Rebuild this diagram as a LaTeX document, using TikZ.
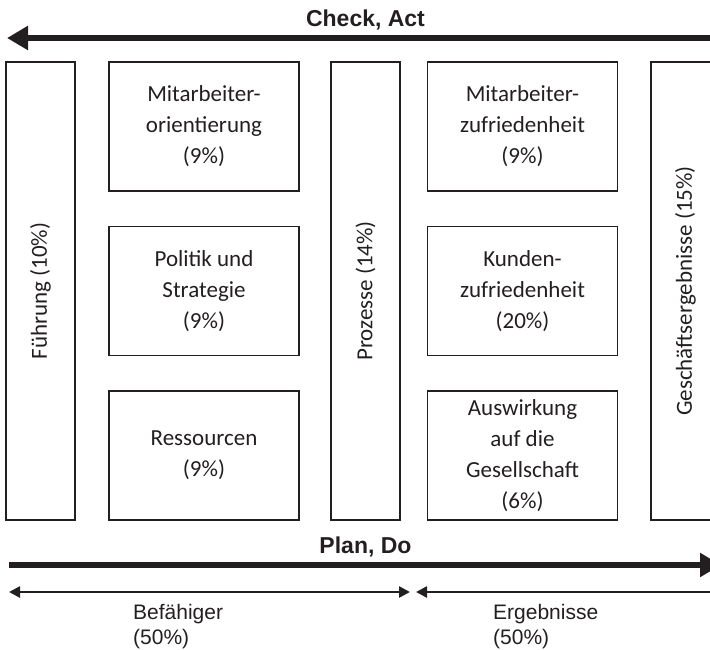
\documentclass[tikz,border=0pt]{standalone}
\usepackage{fontspec}
\setmainfont{Carlito}
\newfontfamily\arialf{Liberation Sans}
\usetikzlibrary{arrows.meta}
\definecolor{ink}{HTML}{231F20}
\tikzset{
  box/.style={draw=ink, line width=1.6pt, rectangle, inner sep=0pt, align=center,
    text=ink, font=\fontsize{23}{31}\selectfont},
  colbox/.style={box, minimum width=190pt, minimum height=129pt},
  tallbox/.style={box, rotate=90, minimum width=458pt, minimum height=69pt},
  bigarrow/.style={draw=ink, line width=6.8pt, -{Triangle[length=21pt,width=23pt]}},
  smallarrow/.style={draw=ink, line width=2.5pt, {Triangle[length=11pt,width=11pt]}-{Triangle[length=11pt,width=11pt]}},
  biglabel/.style={text=ink, font=\arialf\bfseries\fontsize{23}{27}\selectfont, anchor=base, inner sep=0pt},
  smalllabel/.style={text=ink, font=\arialf\fontsize{21}{25}\selectfont, align=left, anchor=north west, inner sep=0pt}
}
\begin{document}
\begin{tikzpicture}[x=1pt,y=-1pt]
\useasboundingbox (0,0) rectangle (710,649);
% arrows
\coordinate (ca1) at (730,38);
\coordinate (ca2) at (7,38);
\draw[bigarrow] (ca1) -- (ca2);
\node[biglabel] (checkact) at (365.5,26) {Check, Act};

\node[tallbox] (fuehrung) at (40.5,291) {Führung (10\%)};
\node[tallbox] (prozesse) at (365.5,291) {Prozesse (14\%)};
\node[tallbox] (geschaeft) at (685.5,291) {Geschäftsergebnisse (15\%)};

\node[colbox] (ma) at (204,126.5) {Mitarbeiter-\\orientierung\\(9\%)};
\node[colbox] (ps) at (204,291) {Politik und\\Strategie\\(9\%)};
\node[colbox] (res) at (204,455.5) {Ressourcen\\(9\%)};

\node[colbox] (mz) at (522.5,126.5) {Mitarbeiter-\\zufriedenheit\\(9\%)};
\node[colbox] (kz) at (522.5,291) {Kunden-\\zufriedenheit\\(20\%)};
\node[colbox] (ag) at (522.5,455.5) {Auswirkung\\auf die\\Gesellschaft\\(6\%)};

\coordinate (pd1) at (9,565);
\coordinate (pd2) at (721,565);
\draw[bigarrow] (pd1) -- (pd2);
\node[biglabel] (plando) at (365.5,553) {Plan, Do};

\coordinate (b1) at (9,592);
\coordinate (b2) at (410,592);
\draw[smallarrow] (b1) -- (b2);
\coordinate (e1) at (416,592);
\coordinate (e2) at (721,592);
\draw[smallarrow] (e1) -- (e2);

\node[smalllabel] (befaehiger) at (133,604) {Befähiger\\(50\%)};
\node[smalllabel] (ergebnisse) at (493,604) {Ergebnisse\\(50\%)};
\end{tikzpicture}
\end{document}
